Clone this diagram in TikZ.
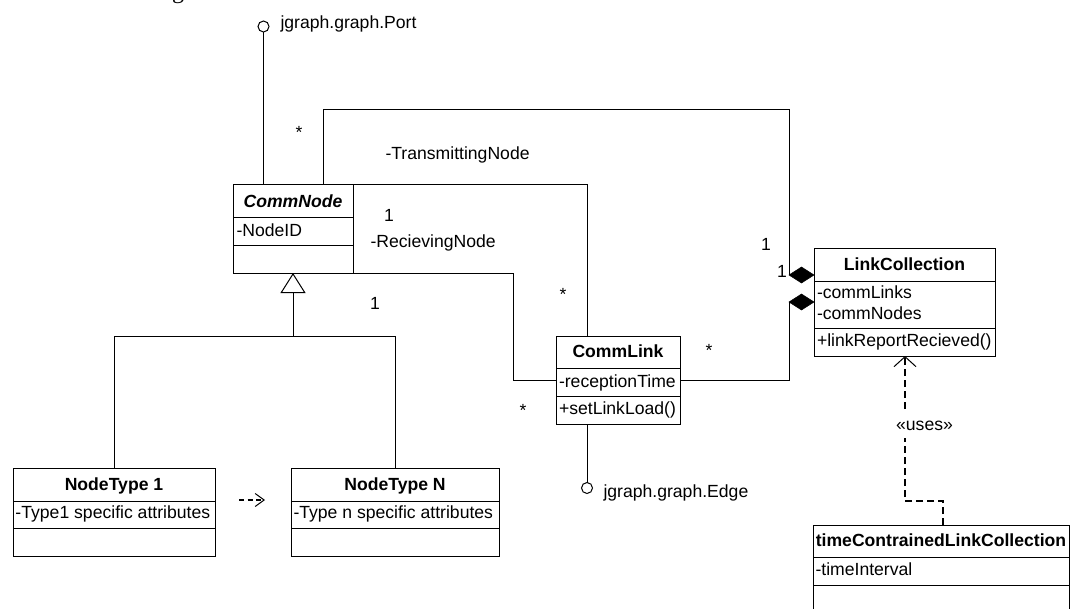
\documentclass[tikz,border=0pt]{standalone}
\usepackage{fontspec}
\setmainfont{Liberation Sans}
\newfontfamily\captionserif{Liberation Serif}
\usetikzlibrary{arrows.meta,shapes.geometric}

\begin{document}
\begin{tikzpicture}[x=1pt,y=-1pt,line width=1pt,
  every node/.style={font=\fontsize{17.6}{21}\selectfont},
  classbox/.style={draw,rectangle,inner sep=0pt,outer sep=0pt},
  ctitle/.style={anchor=base,inner sep=0pt,font=\fontsize{17.6}{21}\selectfont\bfseries},
  cattr/.style={anchor=base west,inner sep=0pt},
  lbl/.style={anchor=base,inner sep=0pt},
  lbll/.style={anchor=base west,inner sep=0pt},
  lolli/.style={draw,circle,minimum size=11pt,inner sep=0pt,outer sep=0pt},
  aggdiamond/.style={draw,fill=black,diamond,minimum width=25pt,minimum height=16pt,inner sep=0pt,outer sep=0pt,line width=0.5pt},
  usesline/.style={line width=1.8pt,dash pattern=on 7pt off 4pt},
  smalldash/.style={line width=1.2pt,dash pattern=on 5pt off 3.5pt}
]
\useasboundingbox (0,0) rectangle (1071,608);
\clip (0,0) rectangle (1071,608);

% caption fragment cut at the top edge
\node[anchor=base,inner sep=0pt,font=\captionserif\fontsize{24}{28}\selectfont] (capfrag) at (178,-2) {g};

% ---------- class boxes ----------
\node[classbox,minimum width=120pt,minimum height=89pt] (cn) at (293,228.5) {};
\draw (cn.west |- 0,217) -- (cn.east |- 0,217);
\draw (cn.west |- 0,245) -- (cn.east |- 0,245);
\node[ctitle,font=\fontsize{17.6}{21}\selectfont\bfseries\itshape] (cn-t) at (293,207) {CommNode};
\node[cattr] (cn-a) at (236,236) {-NodeID};

\node[classbox,minimum width=124pt,minimum height=88pt] (cl) at (618,380) {};
\draw (cl.west |- 0,368) -- (cl.east |- 0,368);
\draw (cl.west |- 0,396) -- (cl.east |- 0,396);
\node[ctitle] (cl-t) at (618,357) {CommLink};
\node[cattr] (cl-a) at (558.5,387) {-receptionTime};
\node[cattr] (cl-o) at (558.5,414) {+setLinkLoad()};

\node[classbox,minimum width=181pt,minimum height=108pt] (lc) at (904.5,302) {};
\draw (lc.west |- 0,281) -- (lc.east |- 0,281);
\draw (lc.west |- 0,328) -- (lc.east |- 0,328);
\node[ctitle] (lc-t) at (904.5,270) {LinkCollection};
\node[cattr] (lc-a1) at (816.5,298) {-commLinks};
\node[cattr] (lc-a2) at (816.5,319) {-commNodes};
\node[cattr] (lc-o) at (816.5,346) {+linkReportRecieved()};

\node[classbox,minimum width=202pt,minimum height=88pt] (nt1) at (114,512) {};
\draw (nt1.west |- 0,501) -- (nt1.east |- 0,501);
\draw (nt1.west |- 0,528) -- (nt1.east |- 0,528);
\node[ctitle] (nt1-t) at (114,490) {NodeType 1};
\node[cattr] (nt1-a) at (15,518) {-Type1 specific attributes};

\node[classbox,minimum width=208pt,minimum height=88pt] (ntn) at (395,512) {};
\draw (ntn.west |- 0,501) -- (ntn.east |- 0,501);
\draw (ntn.west |- 0,528) -- (ntn.east |- 0,528);
\node[ctitle] (ntn-t) at (395,490) {NodeType N};
\node[cattr] (ntn-a) at (293,518) {-Type n specific attributes};

\node[classbox,minimum width=256pt,minimum height=120pt] (tcl) at (941,585) {};
\draw (tcl.west |- 0,557) -- (tcl.east |- 0,557);
\draw (tcl.west |- 0,585) -- (tcl.east |- 0,585);
\node[ctitle] (tcl-t) at (941,546) {timeContrainedLinkCollection};
\node[cattr] (tcl-a) at (815,575) {-timeInterval};

% ---------- interface lollipops ----------
\node[lolli] (port) at (263.5,26.5) {};
\node[lbll] (port-l) at (280,28) {jgraph.graph.Port};
\draw (port.south) -- (port.south |- cn.north);

\node[lolli] (edge) at (587,488) {};
\node[lbll] (edge-l) at (603,497) {jgraph.graph.Edge};
\draw (edge.north) -- (edge.north |- cl.south);

% ---------- aggregations into LinkCollection ----------
\node[aggdiamond,anchor=east] (dtop) at ([yshift=27pt]lc.west) {};
\node[aggdiamond,anchor=east] (dbot) at (lc.west) {};
\draw ([xshift=30pt]cn.north) -- ++(0,-75) -| (dtop.west);
\draw (cl.east) -| (dbot.west);

% ---------- CommNode -- CommLink associations ----------
\draw (cn.north east) -| ([xshift=-31pt]cl.north);
\draw (cn.south east) -| ([xshift=-43pt]cl.west) -- (cl.west);

% ---------- generalisation ----------
\coordinate (bus) at ([yshift=132pt]nt1.north);
\draw (nt1.north) -- (bus) -| (ntn.north);
\draw[-{Triangle[open,length=20pt,width=25pt]}] (bus -| cn.south) -- (cn.south);

% ---------- dependencies ----------
\draw[smalldash,-{Straight Barb[length=9pt,width=13pt,line width=1pt]}]
  ([xshift=24pt,yshift=12pt]nt1.east) -- ([xshift=-26pt,yshift=12pt]ntn.west);
\draw[usesline,-{Straight Barb[length=10pt,width=22pt,line width=1pt]}]
  ([xshift=2pt]tcl.north) -- ++(0,-24) -| ([xshift=0.5pt]lc.south);
\node[anchor=base,fill=white,inner xsep=2pt,inner ysep=6pt,text height=14pt,text depth=2pt] (uses) at (924.5,430) {«uses»};

% ---------- role names and multiplicities ----------
\node[lbl] (m1) at (299,138) {*};
\node[lbll] (r1) at (385,159) {-TransmittingNode};
\node[lbl] (m2) at (389,221) {1};
\node[lbll] (r2) at (370,247) {-RecievingNode};
\node[lbl] (m3) at (563,300) {*};
\node[lbl] (m4) at (375,309) {1};
\node[lbl] (m5) at (523,416) {*};
\node[lbl] (m6) at (709,356) {*};
\node[lbl] (m7) at (766,250) {1};
\node[lbl] (m8) at (782,277) {1};
\end{tikzpicture}
\end{document}
